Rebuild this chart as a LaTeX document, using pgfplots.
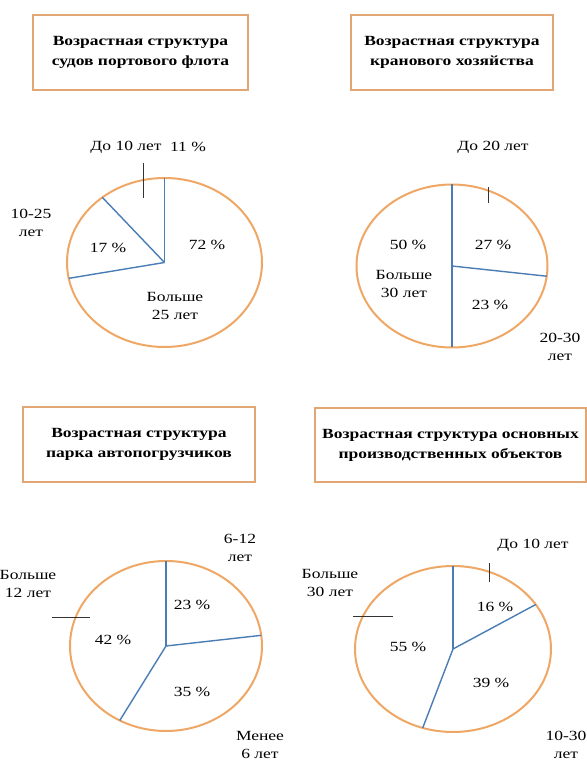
\documentclass[border=0pt]{standalone}
\usepackage{fontspec}
\setmainfont[FakeStretch=1.25]{Liberation Serif}
\usepackage{pgfplots}
\pgfplotsset{compat=1.18}
\usepackage{pgfplotstable}

\definecolor{pieor}{HTML}{EFA766}
\definecolor{boxor}{HTML}{E2A574}
\definecolor{slicec}{HTML}{4A7DB5}
\definecolor{lead}{HTML}{333333}

% share = slice value (%), start = cumulative start of slice (clockwise from 12 o'clock)
\pgfplotstableread{
share start
72 0
17 72
11 89
}\pieA
\pgfplotstableread{
share start
27 0
23 27
50 50
}\pieB
\pgfplotstableread{
share start
23 0
35 23
42 58
}\pieC
\pgfplotstableread{
share start
16 0
39 16
55 55
}\pieD

% slice boundary lines: radii (rx,ry)
\pgfplotsset{
  slicelines/.style n args={2}{slicec, line width=1.4bp,
    quiver={u={#1*cos(90-3.6*\thisrow{start})}, v={#2*sin(90-3.6*\thisrow{start})}}},
}
\newcommand{\lbl}{\fontsize{14bp}{18bp}\selectfont}
\newcommand{\ttl}{\bfseries\fontsize{14bp}{20bp}\selectfont}

\begin{document}
\begin{tikzpicture}
\path[use as bounding box] (0,0) rectangle (587bp,765bp);
\begin{axis}[at={(0,0)}, anchor=south west, x=1bp, y=1bp, scale only axis,
  xmin=0, xmax=587, ymin=0, ymax=765, hide axis, clip=false]

% ---------- Panel 1 ----------
\node[draw=boxor, line width=2.2bp, minimum width=215bp, minimum height=75bp, inner sep=0pt,
  align=center, font=\ttl] at (axis cs:140.5,712.5)
  {\fontsize{14bp}{24bp}\selectfont Возрастная структура\\судов портового флота};
\draw[pieor, line width=2bp, fill=white] (axis cs:164.5,502.5) ellipse [x radius=97.5bp, y radius=84.5bp];
\addplot[slicelines={97.5}{84.5}] table[x expr=164.5, y expr=502.5] {\pieA};
\draw[lead, line width=1bp] (axis cs:143,602) -- (axis cs:143,567);
\node[font=\lbl] at (axis cs:126,618) {До 10 лет};
\node[font=\lbl] at (axis cs:188,618) {11 \%};
\node[font=\lbl, align=center] at (axis cs:31,542.5) {10-25\\лет};
\node[font=\lbl] at (axis cs:108,517) {17 \%};
\node[font=\lbl] at (axis cs:207,520) {72 \%};
\node[font=\lbl, align=center] at (axis cs:175,459) {Больше\\25 лет};

% ---------- Panel 2 ----------
\node[draw=boxor, line width=2.2bp, minimum width=202bp, minimum height=75bp, inner sep=0pt,
  align=center, font=\ttl] at (axis cs:452,712.5)
  {Возрастная структура\\кранового хозяйства};
\draw[pieor, line width=2bp, fill=white] (axis cs:452,499) ellipse [x radius=95.5bp, y radius=81.5bp];
\addplot[slicelines={95.5}{81.5}] table[x expr=452, y expr=499] {\pieB};
\draw[lead, line width=1bp] (axis cs:488,578) -- (axis cs:488,562);
\node[font=\lbl] at (axis cs:493,618) {До 20 лет};
\node[font=\lbl] at (axis cs:408,520) {50 \%};
\node[font=\lbl] at (axis cs:493,520) {27 \%};
\node[font=\lbl, align=center] at (axis cs:404,481) {Больше\\30 лет};
\node[font=\lbl] at (axis cs:490,460) {23 \%};
\node[font=\lbl, align=center] at (axis cs:560,418.5) {20-30\\лет};

% ---------- Panel 3 ----------
\node[draw=boxor, line width=2.2bp, minimum width=232bp, minimum height=75bp, inner sep=0pt,
  align=center, font=\ttl] at (axis cs:139,320.5)
  {Возрастная структура\\парка автопогрузчиков};
\draw[pieor, line width=2bp, fill=white] (axis cs:166,119) ellipse [x radius=96bp, y radius=85bp];
\addplot[slicelines={96}{85}] table[x expr=166, y expr=119] {\pieC};
\draw[lead, line width=1bp] (axis cs:52,147) -- (axis cs:90,147);
\node[font=\lbl, align=center] at (axis cs:240,217.5) {6-12\\лет};
\node[font=\lbl, align=center] at (axis cs:28,181.5) {Больше\\12 лет};
\node[font=\lbl] at (axis cs:192,160) {23 \%};
\node[font=\lbl] at (axis cs:113,125) {42 \%};
\node[font=\lbl] at (axis cs:192,73) {35 \%};
\node[font=\lbl, align=center, inner sep=1pt] at (axis cs:260,20) {Менее\\6 лет};

% ---------- Panel 4 ----------
\node[draw=boxor, line width=2.2bp, minimum width=271bp, minimum height=74bp, inner sep=0pt,
  align=center, font=\ttl] at (axis cs:450.5,320)
  {Возрастная структура основных\\производственных объектов};
\draw[pieor, line width=2bp, fill=white] (axis cs:453,116) ellipse [x radius=98bp, y radius=83bp];
\addplot[slicelines={98}{83}] table[x expr=453, y expr=116] {\pieD};
\draw[lead, line width=1bp] (axis cs:489,202) -- (axis cs:489,183);
\draw[lead, line width=1bp] (axis cs:353,148) -- (axis cs:393,148);
\node[font=\lbl] at (axis cs:533,220) {До 10 лет};
\node[font=\lbl, align=center] at (axis cs:330,182.5) {Больше\\30 лет};
\node[font=\lbl] at (axis cs:495,158) {16 \%};
\node[font=\lbl] at (axis cs:408,118) {55 \%};
\node[font=\lbl] at (axis cs:491,82) {39 \%};
\node[font=\lbl, align=center, inner sep=1pt] at (axis cs:566,20) {10-30\\лет};
\end{axis}
\end{tikzpicture}
\end{document}
